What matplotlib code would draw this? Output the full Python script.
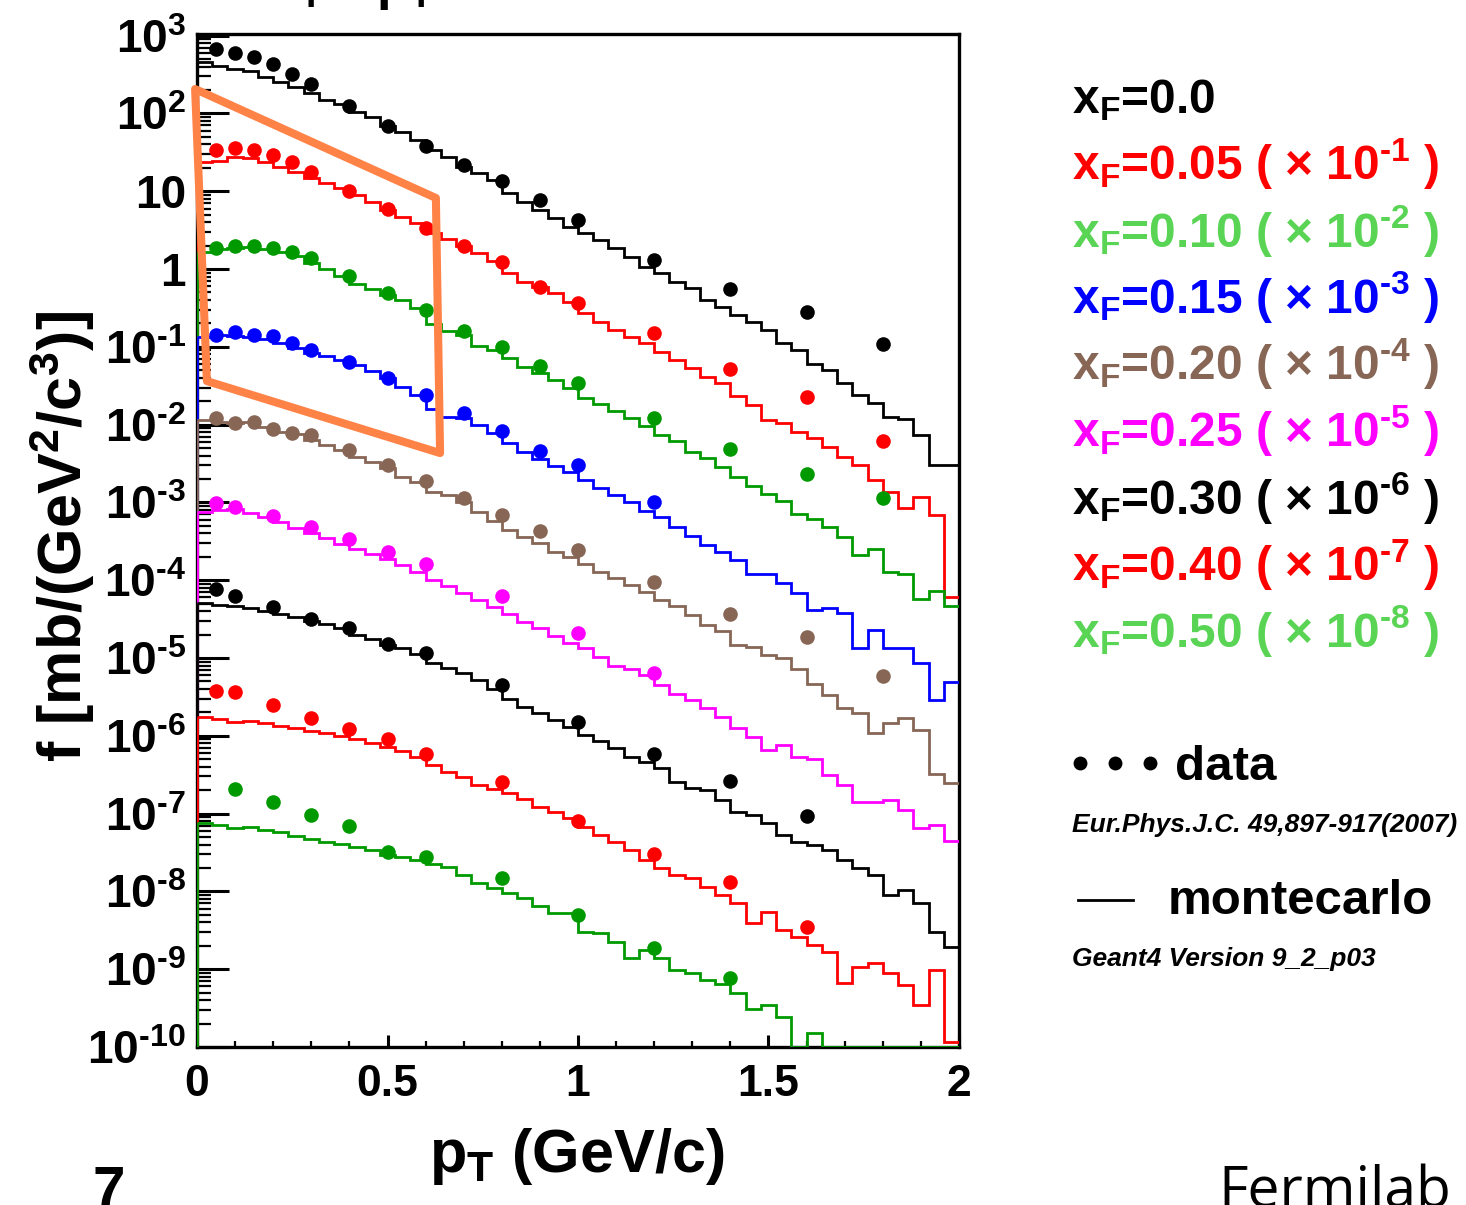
import numpy as np
import matplotlib
matplotlib.use('Agg')
import matplotlib.pyplot as plt
from matplotlib.ticker import LogLocator, MultipleLocator, NullFormatter
from matplotlib.patches import Polygon
from matplotlib.lines import Line2D

plt.rcParams['font.family'] = 'Liberation Sans'
plt.rcParams['font.weight'] = 'bold'
plt.rcParams['mathtext.fontset'] = 'custom'
plt.rcParams['mathtext.rm'] = 'Liberation Sans:bold'
plt.rcParams['mathtext.it'] = 'Liberation Sans:bold'
plt.rcParams['mathtext.bf'] = 'Liberation Sans:bold'

# Geant4 histograms: 50 bins in pT from 0 to 2 GeV/c
pt_edges = np.linspace(0.0, 2.0, 51)

# NA49 pT points
pt_all = [0.05, 0.1, 0.15, 0.2, 0.25, 0.3, 0.4, 0.5, 0.6, 0.7, 0.8, 0.9, 1.0, 1.2, 1.4, 1.6, 1.8]
pt_015 = [0.05, 0.1, 0.15, 0.2, 0.25, 0.3, 0.4, 0.5, 0.6, 0.7, 0.8, 0.9, 1.0, 1.2]
pt_025 = [0.05, 0.1, 0.2, 0.3, 0.4, 0.5, 0.6, 0.8, 1.0, 1.2]
pt_030 = [0.05, 0.1, 0.2, 0.3, 0.4, 0.5, 0.6, 0.8, 1.0, 1.2, 1.4, 1.6]
pt_050 = [0.1, 0.2, 0.3, 0.4, 0.5, 0.6, 0.8, 1.0, 1.2, 1.4]

# invariant cross section f [mb/(GeV^2/c^3)], unscaled
data_000 = [667, 592, 535, 428, 321, 239, 124, 69.5, 38, 21.9, 13.5, 7.7, 4.27, 1.32, 0.548, 0.28, 0.109]
data_005 = [339, 362, 339, 292, 235, 178, 101, 59.0, 34.0, 19.8, 12.4, 5.82, 3.69, 1.52, 0.519, 0.229, 0.062]
data_010 = [188, 199, 199, 184, 167, 137, 81.3, 49.6, 29.7, 16.1, 10.0, 5.71, 3.45, 1.23, 0.485, 0.23, 0.115]
data_015 = [142, 156, 142, 137, 113, 91, 64.3, 40.1, 24.0, 14.0, 8.34, 4.61, 3.02, 1.00]
data_020 = [120, 105.7, 109, 87, 78.7, 73.5, 47.1, 30.2, 18.8, 11.3, 6.89, 4.28, 2.44, 0.957, 0.365, 0.188, 0.059]
data_025 = [99, 88, 67, 49, 33.5, 23.2, 16.1, 6.27, 2.11, 0.635]
data_030 = [76.4, 62.7, 45.6, 31.4, 24.1, 15.0, 11.7, 4.5, 1.52, 0.578, 0.265, 0.093]
data_040 = [38.0, 36.9, 24.9, 17.1, 12.1, 9.1, 5.83, 2.52, 0.81, 0.303, 0.133, 0.035]
data_050 = [20.5, 14.2, 9.6, 6.98, 3.18, 2.79, 1.47, 0.498, 0.189, 0.078]

mc_000 = [457, 406, 372, 351, 294, 253, 218, 183, 149, 132, 104, 90, 68.9, 57.7, 45.5, 33.9, 27.5,
          20.5, 17.1, 13.9, 9.4, 7.3, 5.73, 4.49, 3.50, 2.88, 2.36, 1.85, 1.44, 1.07, 0.88, 0.687,
          0.565, 0.40, 0.327, 0.256, 0.210, 0.164, 0.111, 0.091, 0.061, 0.050, 0.034, 0.024,
          0.0188, 0.0127, 0.0117, 0.0073, 0.0030, 0.0030]
mc_005 = [239, 247, 272, 264, 239, 206, 178, 146, 129, 109, 89.3, 73.3, 57.3, 47.0, 38.6, 28.7, 24.0,
          19.7, 15.9, 12.7, 8.79, 6.85, 5.91, 4.86, 3.79, 2.69, 2.10, 1.64, 1.35, 1.11, 0.865, 0.676,
          0.528, 0.412, 0.340, 0.233, 0.179, 0.115, 0.104, 0.081, 0.0667, 0.052, 0.0386, 0.0302,
          0.0194, 0.0137, 0.0084, 0.0118, 0.0069, 0.00061]
mc_010 = [167, 179, 188, 190, 181, 164, 148, 118, 99, 81.3, 64.1, 54.8, 46.2, 39.9, 31.2, 19.6, 16.0,
          14.2, 10.2, 9.1, 7.11, 5.55, 4.56, 3.74, 2.92, 2.18, 1.84, 1.51, 1.20, 0.97, 0.735, 0.621,
          0.448, 0.368, 0.282, 0.21, 0.163, 0.128, 0.105, 0.072, 0.062, 0.049, 0.036, 0.021,
          0.025, 0.0129, 0.012, 0.0058, 0.0073, 0.0046]
mc_015 = [135, 142, 139, 132, 125, 111, 95.5, 82.4, 76, 67.6, 58.3, 49.3, 39.4, 30.7, 24.0, 15.7, 12.6,
          12.0, 9.9, 7.73, 5.74, 4.48, 3.61, 2.94, 2.44, 1.94, 1.52, 1.24, 1.02, 0.77, 0.65, 0.49,
          0.37, 0.283, 0.232, 0.182, 0.122, 0.119, 0.091, 0.069, 0.041, 0.044, 0.0375, 0.0133,
          0.0229, 0.0133, 0.0133, 0.00855, 0.00288, 0.00495]
mc_020 = [115, 109, 106, 107, 94, 81, 75, 63.4, 54.6, 47.1, 37.9, 33.3, 27.4, 21.4, 18.5, 13.7, 12.4,
          10.2, 7.6, 5.8, 4.4, 3.6, 2.98, 2.32, 2.0, 1.61, 1.29, 1.06, 0.87, 0.70, 0.56, 0.46,
          0.357, 0.265, 0.224, 0.147, 0.140, 0.109, 0.099, 0.072, 0.047, 0.0334, 0.0225, 0.0195,
          0.011, 0.0145, 0.0171, 0.0119, 0.0032, 0.00245]
mc_025 = [76, 79.8, 81.5, 73.6, 65.5, 56.5, 46.5, 40.1, 34.5, 28.9, 24.9, 21.7, 18.6, 15.7, 12.9, 10.0,
          8.4, 6.9, 5.6, 4.56, 3.67, 2.92, 2.41, 1.92, 1.57, 1.33, 1.04, 0.79, 0.72, 0.60, 0.45,
          0.341, 0.288, 0.225, 0.176, 0.125, 0.097, 0.066, 0.076, 0.054, 0.050, 0.031, 0.0233,
          0.0142, 0.0142, 0.0150, 0.0111, 0.0065, 0.0071, 0.0044]
mc_030 = [50.5, 48.0, 46.6, 43.6, 40.6, 36.7, 33.3, 30.1, 27.4, 24.1, 19.8, 17.4, 14.7, 13.3, 11.25,
          8.7, 7.36, 6.35, 5.21, 3.99, 2.94, 2.37, 1.95, 1.60, 1.31, 1.02, 0.865, 0.69, 0.54, 0.46,
          0.382, 0.257, 0.211, 0.201, 0.150, 0.106, 0.096, 0.075, 0.053, 0.0436, 0.0394, 0.034,
          0.0254, 0.0198, 0.0163, 0.009, 0.0104, 0.007, 0.00303, 0.00195]
mc_040 = [17.3, 16.3, 15.2, 15.6, 14.5, 13.4, 12.5, 11.6, 10.8, 9.9, 9.0, 8.15, 7.24, 6.43, 5.33, 4.22,
          3.45, 2.98, 2.33, 2.07, 1.82, 1.54, 1.23, 1.04, 0.87, 0.68, 0.53, 0.436, 0.340, 0.254,
          0.198, 0.163, 0.147, 0.115, 0.090, 0.072, 0.039, 0.055, 0.032, 0.026, 0.0205, 0.0168,
          0.0066, 0.0106, 0.0119, 0.0089, 0.0063, 0.0035, 0.0098, 0.00117]
mc_050 = [7.5, 7.13, 6.47, 6.67, 6.15, 5.75, 5.15, 4.68, 4.36, 4.06, 3.69, 3.40, 2.94, 2.79, 2.54, 2.25,
          2.04, 1.63, 1.27, 1.10, 0.946, 0.815, 0.655, 0.524, 0.524, 0.303, 0.289, 0.225, 0.138,
          0.177, 0.138, 0.098, 0.089, 0.073, 0.065, 0.049, 0.031, 0.035, 0.0245, 0, 0.015,
          0, 0, 0, 0, 0, 0, 0, 0, 0]

xf_labels = ['0.0', '0.05', '0.10', '0.15', '0.20', '0.25', '0.30', '0.40', '0.50']
scale_exp = [0, -1, -2, -3, -4, -5, -6, -7, -8]
pt_sets = [pt_all, pt_all, pt_all, pt_015, pt_all, pt_025, pt_030, pt_030, pt_050]
data_sets = [data_000, data_005, data_010, data_015, data_020, data_025, data_030, data_040, data_050]
mc_sets = [mc_000, mc_005, mc_010, mc_015, mc_020, mc_025, mc_030, mc_040, mc_050]
line_colors = ['black', '#ff0000', '#009a00', '#0000ff', '#876656', '#ff00ff', 'black', '#ff0000', '#009a00']
text_colors = ['black', '#ff0000', '#59d454', '#0000ff', '#876656', '#ff00ff', 'black', '#ff0000', '#59d454']

# region highlighted on the plot (pT, f)
box_pt = [-0.005, 0.627, 0.638, 0.026]
box_f = [206, 8.19, 4.31e-3, 0.0363]

ymin, ymax = 1e-10, 1.05e3


def pow10(k):
    # ROOT-style power label with a short hyphen for negative exponents
    if k < 0:
        return r'10$^{\text{-%d}}$' % (-k)
    return '10$^{%d}$' % k


W, H = 1466, 1205
fig = plt.figure(figsize=(W / 100, H / 100), dpi=100)
ax = fig.add_axes([197 / W, 1 - 1047 / H, 762 / W, 1013 / H])
ax.set_yscale('log')

for i in range(len(xf_labels)):
    s = 10.0 ** scale_exp[i]
    mc = np.array(mc_sets[i]) * s
    mc = np.where(mc > ymin, mc, ymin)
    ax.stairs(mc, pt_edges, baseline=None, color=line_colors[i], lw=2.0, zorder=3)
    ax.vlines(pt_edges[0], ymin, mc[0], colors=line_colors[i], lw=2.0, zorder=3)
    ax.plot(pt_sets[i], np.array(data_sets[i]) * s, 'o', color=line_colors[i],
            ms=10.5, mec='none', zorder=4)

ax.add_patch(Polygon(list(zip(box_pt, box_f)), closed=True, fill=False,
                     edgecolor='#ff8246', lw=5.8, joinstyle='round', zorder=5, clip_on=False))

ax.set_xlim(0, 2)
ax.set_ylim(ymin, ymax)
decades = list(range(-10, 4))
ylabels = []
for k in decades:
    if k == 0:
        ylabels.append('1')
    elif k == 1:
        ylabels.append('10')
    else:
        ylabels.append(pow10(k))
ax.set_yticks([10.0 ** k for k in decades], labels=ylabels)
ax.yaxis.set_minor_locator(LogLocator(base=10, subs=np.arange(2, 10), numticks=100))
ax.yaxis.set_minor_formatter(NullFormatter())
ax.set_xticks([0, 0.5, 1, 1.5, 2], labels=['0', '0.5', '1', '1.5', '2'])
ax.xaxis.set_minor_locator(MultipleLocator(0.1))

ax.tick_params(axis='both', which='both', direction='in', top=False, right=False)
ax.tick_params(axis='y', which='major', length=23, width=2.2, pad=8, labelsize=33)
ax.tick_params(axis='y', which='minor', length=10, width=1.6)
ax.tick_params(axis='x', which='major', length=9, width=2.2, pad=12, labelsize=32)
ax.tick_params(axis='x', which='minor', length=4.5, width=1.6)
for sp in ax.spines.values():
    sp.set_linewidth(2.4)


def put(px, py, s, **kw):
    return fig.text(px / W, 1 - py / H, s, **kw)


put(577, 1172, r'p$_{T}$ (GeV/c)', fontsize=44, ha='center', va='baseline')
put(62, 536, r'f [mb/(GeV$^{2}$/c$^{3}$)]', fontsize=44, rotation=90, ha='center', va='center')
put(276, -1, r'x$_{F}$ - p$_{T}$', fontsize=38, va='baseline')

# legend column
for i, lab in enumerate(xf_labels):
    txt = 'x$_{F}$=' + lab
    if scale_exp[i] != 0:
        txt += ' ( \u00d7 ' + pow10(scale_exp[i]) + ' )'
    put(1072, 113 + 66.8 * i, txt, color=text_colors[i], fontsize=34.5, va='baseline')

fig.add_artist(Line2D([1080 / W, 1115 / W, 1150 / W], [1 - 763 / H] * 3, ls='none',
                      marker='o', ms=10, color='black', mec='none'))
put(1175, 780, 'data', fontsize=35.5, va='baseline')
put(1072, 832, 'Eur.Phys.J.C. 49,897-917(2007)', fontsize=19, style='italic', va='baseline')
fig.add_artist(Line2D([1078 / W, 1133 / W], [1 - 900 / H] * 2, color='black', lw=2.0))
put(1168, 914, 'montecarlo', fontsize=35.5, va='baseline')
put(1072, 966, 'Geant4 Version 9_2_p03', fontsize=19, style='italic', va='baseline')

put(92, 1207, '7', fontsize=42, va='baseline')
put(1218, 1207, 'Fermilab', fontsize=41, family='Open Sans', weight='normal', va='baseline')

fig.savefig('out.png', dpi=100)
